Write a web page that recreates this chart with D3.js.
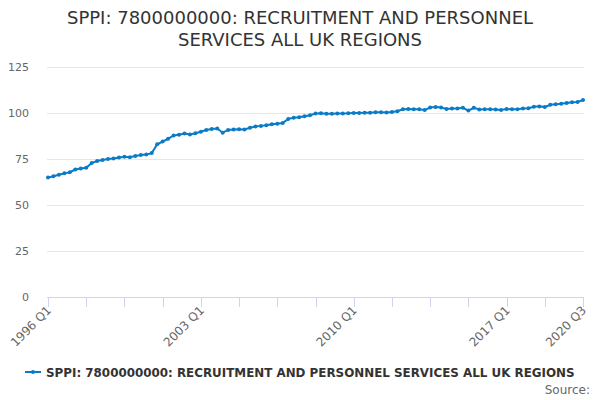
<!DOCTYPE html>
<html>
<head>
<meta charset="utf-8">
<script src="https://cdn.jsdelivr.net/npm/d3@7/dist/d3.min.js"></script>
<style>
  body { margin: 0; background: #fff; }
  svg { font-family: "DejaVu Sans", sans-serif; }
</style>
</head>
<body>
<svg id="chart" width="600" height="400"></svg>
<script>
// quarterly values, 1996 Q1 .. 2020 Q3
const years = d3.range(1996, 2021);
const quarters = [];
years.forEach(y => [1, 2, 3, 4].forEach(q => { if (y < 2020 || q <= 3) quarters.push(y + " Q" + q); }));

const values = [
  65.0, 65.6, 66.4, 67.2,
  67.8, 69.3, 69.8, 70.2,
  72.8, 73.9, 74.5, 75.0,
  75.3, 75.8, 76.2, 76.0,
  76.6, 77.2, 77.5, 78.2,
  83.0, 84.5, 86.0, 87.8,
  88.2, 88.8, 88.3, 89.0,
  89.8, 90.8, 91.3, 91.6,
  89.3, 90.8, 91.0, 91.2,
  91.0, 92.0, 92.7, 93.0,
  93.4, 93.9, 94.2, 94.6,
  96.8, 97.4, 97.7, 98.2,
  98.8, 99.7, 99.8, 99.6,
  99.6, 99.7, 99.7, 99.8,
  100.0, 100.0, 100.2, 100.2,
  100.4, 100.4, 100.3, 100.5,
  101.0, 102.0, 102.2, 102.0,
  102.0, 101.6, 103.0, 103.2,
  103.0, 102.2, 102.4, 102.5,
  102.8, 101.3, 102.8, 101.9,
  102.0, 102.0, 101.9, 101.6,
  102.2, 102.0, 102.0, 102.4,
  102.6, 103.4, 103.6, 103.2,
  104.5, 104.8, 105.0, 105.4,
  105.8, 106.0, 107.0
];

const yTicks = [0, 25, 50, 75, 100, 125];
const labelledQuarters = ["1996 Q1", "2003 Q1", "2010 Q1", "2017 Q1", "2020 Q3"];
const title = ["SPPI: 7800000000: RECRUITMENT AND PERSONNEL", "SERVICES ALL UK REGIONS"];
const seriesName = "SPPI: 7800000000: RECRUITMENT AND PERSONNEL SERVICES ALL UK REGIONS";

const svg = d3.select("#chart");
const colour = "#0a7bc6";

let x = d3.scaleLinear().domain([0, quarters.length - 1]).range([48, 583]);
let y = d3.scaleLinear().domain([0, 125]).range([297, 67]);

// title
svg.append("text").attr("x", 300).attr("y", 24).attr("text-anchor", "middle")
    .attr("font-size", 18).attr("fill", "#333").text(title[0]);
svg.append("text").attr("x", 300).attr("y", 46).attr("text-anchor", "middle")
    .attr("font-size", 18).attr("fill", "#333").text(title[1]);

// gridlines + y labels
svg.append("g").selectAll("line").data(yTicks.filter(d => d > 0)).enter().append("line")
    .attr("x1", 47).attr("x2", 584)
    .attr("y1", d => y(d) + 0.5).attr("y2", d => y(d) + 0.5)
    .attr("stroke", "#e6e6e6");
svg.append("g").selectAll("text").data(yTicks).enter().append("text")
    .attr("x", 29).attr("y", d => y(d) + 4).attr("text-anchor", "end")
    .attr("font-size", 11).attr("fill", "#666").text(d => d);

// x axis
const tickIdx = d3.range(0, quarters.length, 7);
svg.append("line").attr("x1", 47).attr("x2", 584).attr("y1", 297.5).attr("y2", 297.5)
    .attr("stroke", "#ccd6eb");
svg.append("g").selectAll("line").data(tickIdx).enter().append("line")
    .attr("x1", d => Math.round(x(d)) + 0.5).attr("x2", d => Math.round(x(d)) + 0.5)
    .attr("y1", 297).attr("y2", 307).attr("stroke", "#ccd6eb");
svg.append("g").selectAll("text").data(labelledQuarters).enter().append("text")
    .attr("text-anchor", "end").attr("font-size", 12).attr("fill", "#666")
    .attr("transform", d => "translate(" + (x(quarters.indexOf(d)) + 4) + ",311) rotate(-45)")
    .text(d => d);

// series
let line = d3.line().x((d, i) => x(i)).y(d => y(d));
svg.append("path").datum(values).attr("d", line)
    .attr("fill", "none").attr("stroke", colour).attr("stroke-width", 2);
svg.append("g").selectAll("circle").data(values).enter().append("circle")
    .attr("cx", (d, i) => x(i)).attr("cy", d => y(d)).attr("r", 2).attr("fill", colour);

// legend
svg.append("line").attr("x1", 25).attr("x2", 41).attr("y1", 372).attr("y2", 372)
    .attr("stroke", colour).attr("stroke-width", 2);
svg.append("circle").attr("cx", 33).attr("cy", 372).attr("r", 2).attr("fill", colour);
svg.append("text").attr("x", 46).attr("y", 376.5).attr("font-size", 11.9)
    .attr("font-weight", "bold").attr("fill", "#333").text(seriesName);

svg.append("text").attr("x", 590).attr("y", 394).attr("text-anchor", "end")
    .attr("font-size", 12).attr("fill", "#666").text("Source:");
</script>
</body>
</html>
